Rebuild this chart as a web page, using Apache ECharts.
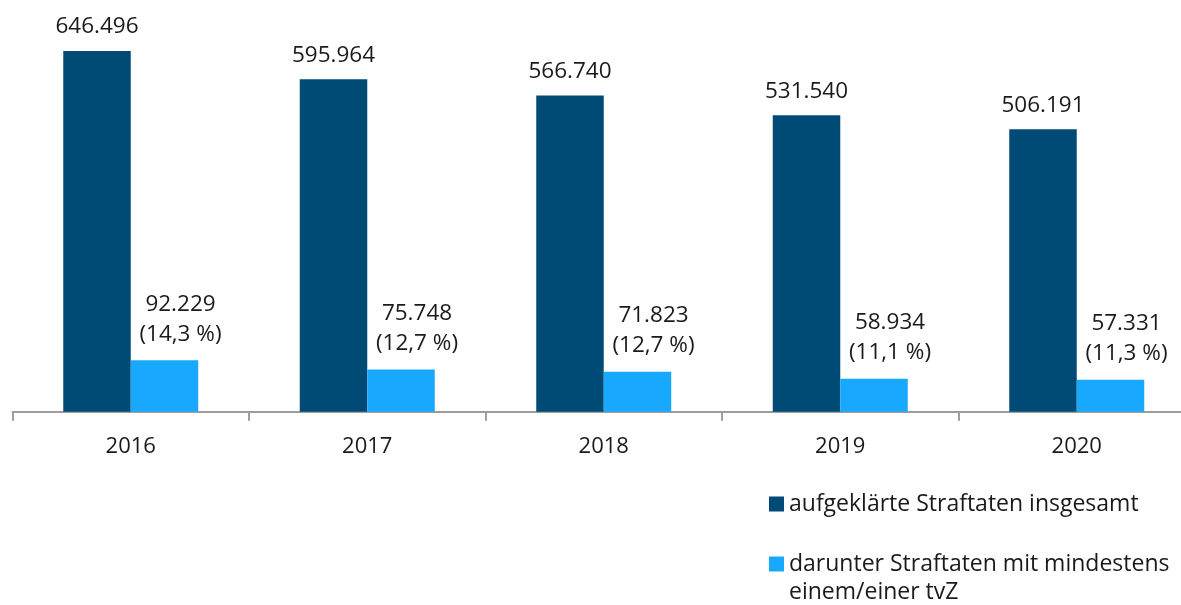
<!DOCTYPE html>
<html>
<head>
<meta charset="utf-8">
<script src="https://cdn.jsdelivr.net/npm/echarts@6/dist/echarts.min.js"></script>
<style>
    html, body { margin: 0; padding: 0; background: #fff; }
    #chart { width: 1181px; height: 605px; }
</style>
</head>
<body>
<div id="chart"></div>
<script>
    // Jahre und Werte
    var years = ['2016', '2017', '2018', '2019', '2020'];
    var insgesamt = [646496, 595964, 566740, 531540, 506191];
    var tvz = [92229, 75748, 71823, 58934, 57331];
    var anteil = ['14,3', '12,7', '12,7', '11,1', '11,3'];

    var nameInsgesamt = 'aufgeklärte Straftaten insgesamt';
    var nameTvz = 'darunter Straftaten mit mindestens';

    var fontFamily = '"Open Sans", sans-serif';

    function fmt(v) {
        return String(v).replace(/\B(?=(\d{3})+(?!\d))/g, '.');
    }

    var myChart = echarts.init(document.getElementById('chart'));
    var option = {
        animation: false,
        textStyle: { fontFamily: fontFamily },
        grid: {
            left: 12.5,
            width: 1182.5,
            top: 10,
            bottom: 193.3,
            containLabel: false,
            outerBoundsMode: 'none'
        },
        legend: {
            orient: 'vertical',
            left: 769,
            top: 489,
            padding: 0,
            itemWidth: 15,
            itemHeight: 15,
            itemGap: 30,
            icon: 'rect',
            selectedMode: false,
            textStyle: { fontSize: 23, color: '#1a1a1a', lineHeight: 30, fontFamily: fontFamily },
            data: [nameInsgesamt, nameTvz]
        },
        graphic: [{
            type: 'text',
            left: 789,
            top: 581,
            style: { text: 'einem/einer tvZ', fontSize: 23, fill: '#1a1a1a', fontFamily: fontFamily }
        }],
        xAxis: {
            type: 'category',
            data: years,
            axisLine: { show: true, lineStyle: { color: '#9d9d9d', width: 2 } },
            axisTick: { show: true, length: 9, lineStyle: { color: '#9d9d9d', width: 2 } },
            axisLabel: { fontSize: 22, color: '#1a1a1a', margin: 24 }
        },
        yAxis: {
            type: 'value',
            min: 0,
            max: 720000,
            show: false,
            splitLine: { show: false }
        },
        series: [
            {
                name: nameInsgesamt,
                type: 'bar',
                data: insgesamt,
                barWidth: 67.5,
                barGap: 0,
                itemStyle: { color: '#004b76' },
                label: {
                    show: true,
                    position: 'top',
                    distance: 9,
                    fontSize: 22.5,
                    lineHeight: 30,
                    color: '#1a1a1a',
                    formatter: function (p) { return fmt(p.value); }
                }
            },
            {
                name: nameTvz,
                type: 'bar',
                data: tvz,
                barWidth: 67.5,
                barGap: 0,
                itemStyle: { color: '#18a9ff' },
                label: {
                    show: true,
                    position: 'top',
                    distance: 11,
                    offset: [16, 0],
                    fontSize: 22.5,
                    lineHeight: 30,
                    color: '#1a1a1a',
                    formatter: function (p) { return fmt(p.value) + '\n(' + anteil[p.dataIndex] + ' %)'; }
                }
            }
        ]
    };
    myChart.setOption(option);
</script>
</body>
</html>
